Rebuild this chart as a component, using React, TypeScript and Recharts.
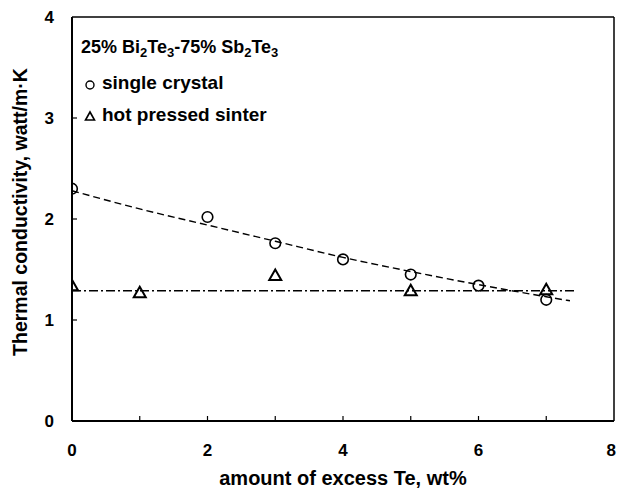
import React from "react"
import {
  ComposedChart,
  Line,
  ReferenceLine,
  Scatter,
  XAxis,
  YAxis,
} from "recharts"

// measured points, thermal conductivity vs excess Te (wt%)
const crystalX = [0, 2, 3, 4, 5, 6, 7]
const crystalK = [2.3, 2.02, 1.76, 1.6, 1.45, 1.34, 1.2]

const sinterX = [0, 1, 3, 5, 7]
const sinterK = [1.34, 1.27, 1.44, 1.29, 1.3]

// fitted trend lines
const crystalFitX = [0, 1, 2, 3, 4, 5, 6, 7, 7.35]
const crystalFitK = [2.28, 2.1, 1.94, 1.78, 1.62, 1.48, 1.35, 1.23, 1.19]
const sinterFitX = [0, 7.45]
const sinterFitK = [1.29, 1.29]

const xTicks = [0, 1, 2, 3, 4, 5, 6, 7, 8]
const yTicks = [0, 1, 2, 3, 4]

const crystal = crystalX.map((x, i) => ({ x, k: crystalK[i] }))
const sinter = sinterX.map((x, i) => ({ x, k: sinterK[i] }))
const crystalFit = crystalFitX.map((x, i) => ({ x, k: crystalFitK[i] }))
const sinterFit = sinterFitX.map((x, i) => ({ x, k: sinterFitK[i] }))

const FONT = "'Liberation Sans', Arial, sans-serif"

const OpenCircle = (props: any) => (
  <circle cx={props.cx} cy={props.cy} r={5.3} fill="none" stroke="#000" strokeWidth={1.6} />
)

const OpenTriangle = (props: any) => {
  const { cx, cy } = props
  return (
    <polygon
      points={`${cx},${cy - 6} ${cx - 6},${cy + 4.5} ${cx + 6},${cy + 4.5}`}
      fill="none"
      stroke="#000"
      strokeWidth={2}
    />
  )
}

const XTick = (props: any) => {
  const { x, y, payload } = props
  const v = payload.value
  // last label sits on the page edge, keep it inside
  const last = v === 8
  return (
    <g>
      {v > 0 && v < 8 && (
        <line x1={x} x2={x} y1={y} y2={y - 5} stroke="#000" strokeWidth={1.2} />
      )}
      {v % 2 === 0 && (
        <text
          x={last ? x + 2 : x}
          y={y + 35}
          textAnchor={last ? "end" : "middle"}
          fontFamily={FONT}
          fontWeight="bold"
          fontSize={17}
          fill="#000"
        >
          {v}
        </text>
      )}
    </g>
  )
}

const YTick = (props: any) => {
  const { x, y, payload } = props
  const v = payload.value
  return (
    <g>
      {v > 0 && v < 4 && (
        <line x1={x + 18} x2={x + 23} y1={y} y2={y} stroke="#000" strokeWidth={1.2} />
      )}
      <text x={x} y={y + 6} textAnchor="end" fontFamily={FONT} fontWeight="bold" fontSize={17} fill="#000">
        {v}
      </text>
    </g>
  )
}

const legendText: React.CSSProperties = {
  position: "absolute",
  fontFamily: FONT,
  fontWeight: "bold",
  fontSize: 19,
  lineHeight: "20px",
  whiteSpace: "nowrap",
  color: "#000",
}

const sub: React.CSSProperties = { fontSize: 13, verticalAlign: -4 }

export default function App() {
  return (
    <div style={{ position: "absolute", left: 0, top: 0, width: 617, height: 494, background: "#fff" }}>
      <ComposedChart
        width={617}
        height={494}
        margin={{ top: 17, right: 3, bottom: 0, left: 0 }}
      >
        <XAxis
          type="number"
          dataKey="x"
          domain={[0, 8]}
          ticks={xTicks}
          interval={0}
          allowDataOverflow
          axisLine={{ stroke: "#000", strokeWidth: 2 }}
          tickLine={false}
          tickSize={0}
          tickMargin={0}
          height={73}
          tick={<XTick />}
          label={{
            content: (p: any) => (
              <text
                x={p.viewBox.x + p.viewBox.width / 2}
                y={485}
                textAnchor="middle"
                fontFamily={FONT}
                fontWeight="bold"
                fontSize={20}
                fill="#000"
              >
                amount of excess Te, wt%
              </text>
            ),
          }}
        />
        <YAxis
          type="number"
          dataKey="k"
          domain={[0, 4]}
          ticks={yTicks}
          interval={0}
          allowDataOverflow
          width={72}
          axisLine={{ stroke: "#000", strokeWidth: 2 }}
          tickLine={false}
          tickSize={0}
          tickMargin={18}
          tick={<YTick />}
          label={{
            content: () => (
              <text
                x={27}
                y={212}
                transform="rotate(-90 27 212)"
                textAnchor="middle"
                fontFamily={FONT}
                fontWeight="bold"
                fontSize={19.5}
                fill="#000"
              >
                Thermal conductivity, watt/m·K
              </text>
            ),
          }}
        />
        <ReferenceLine y={4} stroke="#000" strokeWidth={1.5} />
        <ReferenceLine x={8} stroke="#000" strokeWidth={1.5} />
        <Line
          data={crystalFit}
          dataKey="k"
          type="monotone"
          stroke="#000"
          strokeWidth={1.4}
          strokeDasharray="7 4"
          dot={false}
          activeDot={false}
          isAnimationActive={false}
        />
        <Line
          data={sinterFit}
          dataKey="k"
          type="linear"
          stroke="#000"
          strokeWidth={1.4}
          strokeDasharray="9 3 2 3"
          dot={false}
          activeDot={false}
          isAnimationActive={false}
        />
        <Scatter data={crystal} dataKey="k" shape={<OpenCircle />} isAnimationActive={false} />
        <Scatter data={sinter} dataKey="k" shape={<OpenTriangle />} isAnimationActive={false} />
      </ComposedChart>

      <div style={{ ...legendText, left: 81, top: 37, fontSize: 18 }}>
        25% Bi<sub style={sub}>2</sub>Te<sub style={sub}>3</sub>-75% Sb<sub style={sub}>2</sub>Te
        <sub style={sub}>3</sub>
      </div>
      <div style={{ ...legendText, left: 84, top: 73 }}>
        <svg width={18} height={14} style={{ verticalAlign: -1 }}>
          <circle cx={6} cy={9} r={4} fill="none" stroke="#000" strokeWidth={1.4} />
        </svg>
        single crystal
      </div>
      <div style={{ ...legendText, left: 84, top: 105 }}>
        <svg width={18} height={14} style={{ verticalAlign: -1 }}>
          <polygon points="6,4 1.5,12 10.5,12" fill="none" stroke="#000" strokeWidth={1.6} />
        </svg>
        hot pressed sinter
      </div>
    </div>
  )
}
